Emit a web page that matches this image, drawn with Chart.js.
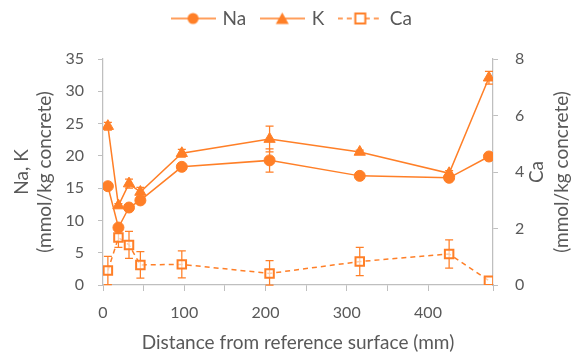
<!DOCTYPE html>
<html>
<head>
<meta charset="utf-8">
<script src="https://cdn.jsdelivr.net/npm/chart.js@4"></script>
<style>
  html, body { margin: 0; padding: 0; background: #ffffff; }
  #wrap { width: 585px; height: 356px; position: relative; }
</style>
</head>
<body>
<div id="wrap"><canvas id="c" width="585" height="356"></canvas></div>
<script>
// ---- data ----
const distances = [6, 19, 32, 46, 97, 205, 316, 426, 475];
const naValues  = [15.3, 8.9, 12.0, 13.1, 18.3, 19.3, 16.9, 16.6, 19.9];
const naErrors  = [0.3, 0.3, 0.3, 0.3, 0.3, 1.8, 0.3, 0.3, 0.3];
const kValues   = [24.6, 12.3, 15.7, 14.4, 20.4, 22.6, 20.6, 17.3, 32.1];
const kErrors   = [0.6, 0.3, 0.7, 0.7, 0.6, 2.0, 0.3, 0.4, 1.0];
const caValues  = [0.51, 1.68, 1.42, 0.71, 0.73, 0.41, 0.83, 1.10, 0.15];
const caErrors  = [0.5, 0.35, 0.48, 0.47, 0.48, 0.45, 0.5, 0.5, 0];
const seriesNames = ['Na', 'K', 'Ca'];
const leftTitle  = ['Na, K', '(mmol/kg concrete)'];
const rightTitle = ['Ca', '(mmol/kg concrete)'];
const xTitle = 'Distance from reference surface (mm)';

const ORANGE = '#FF7F27';
const AXIS = '#BFBFBF';
const TEXT = '#595959';
const FONT = 'Lato, "Open Sans", sans-serif';
const TITLE_SIZE = 19;

const toPts = (xs, ys) => xs.map((x, i) => ({x: x, y: ys[i]}));

// legend sample images: line + marker
function legendImage(kind) {
  const c = document.createElement('canvas');
  c.width = 45; c.height = 14;
  const g = c.getContext('2d');
  g.strokeStyle = ORANGE; g.lineWidth = 1.5;
  if (kind === 'Ca') g.setLineDash([5, 4]);
  g.beginPath(); g.moveTo(0, 7); g.lineTo(45, 7); g.stroke();
  g.setLineDash([]);
  g.fillStyle = ORANGE;
  if (kind === 'Na') {
    g.beginPath(); g.arc(22.5, 7, 5.5, 0, Math.PI * 2); g.fill();
  } else if (kind === 'K') {
    g.beginPath(); g.moveTo(22.5, 1); g.lineTo(29, 12.5); g.lineTo(16, 12.5); g.closePath(); g.fill();
  } else {
    g.fillStyle = '#ffffff';
    g.fillRect(17.5, 2, 10, 10);
    g.lineWidth = 2; g.strokeStyle = ORANGE;
    g.strokeRect(17.5, 2, 10, 10);
  }
  return c;
}
const legendImgs = { Na: legendImage('Na'), K: legendImage('K'), Ca: legendImage('Ca') };

// give the legend a fixed height so the plot starts where the reference's does
const legendHeightPlugin = {
  id: 'legendHeight',
  beforeInit(chart) {
    const lg = chart.legend;
    if (!lg) return;
    const orig = lg.fit;
    lg.fit = function () { orig.call(this); this.height = 66; };
  }
};

// error bars drawn through the chart's scales
const errorBarPlugin = {
  id: 'errorBars',
  beforeDatasetsDraw(chart) {
    const ctx = chart.ctx;
    const errs = [naErrors, kErrors, caErrors];
    chart.data.datasets.forEach((ds, di) => {
      const xs = chart.scales.x;
      const ys = chart.scales[ds.yAxisID];
      ctx.save();
      ctx.strokeStyle = ORANGE;
      ctx.lineWidth = 1.25;
      ds.data.forEach((p, i) => {
        const e = errs[di][i];
        if (!e) return;
        const px = xs.getPixelForValue(p.x);
        const top = ys.getPixelForValue(p.y + e);
        const bot = ys.getPixelForValue(Math.max(0, p.y - e));
        ctx.beginPath();
        ctx.moveTo(px, top); ctx.lineTo(px, bot);
        ctx.moveTo(px - 4, top); ctx.lineTo(px + 4, top);
        ctx.moveTo(px - 4, bot); ctx.lineTo(px + 4, bot);
        ctx.stroke();
      });
      ctx.restore();
    });
  }
};

// right axis title reading bottom-to-top like the reference
const rightTitlePlugin = {
  id: 'rightTitle',
  afterDraw(chart) {
    const s = chart.scales.y1;
    const ctx = chart.ctx;
    const cy = (chart.chartArea.top + chart.chartArea.bottom) / 2;
    ctx.save();
    ctx.fillStyle = TEXT;
    ctx.font = TITLE_SIZE + 'px ' + FONT;
    ctx.textAlign = 'center';
    ctx.textBaseline = 'middle';
    const xs = [s.right - 48, s.right - 23];
    rightTitle.forEach((t, i) => {
      ctx.save();
      ctx.translate(xs[i], cy);
      ctx.rotate(-Math.PI / 2);
      ctx.fillText(t, 0, 0);
      ctx.restore();
    });
    ctx.restore();
  }
};

new Chart(document.getElementById('c'), {
  type: 'line',
  data: {
    datasets: [
      {
        label: seriesNames[0], data: toPts(distances, naValues), yAxisID: 'y',
        borderColor: ORANGE, backgroundColor: ORANGE, borderWidth: 1.5,
        pointStyle: 'circle', pointRadius: 5.5, pointHoverRadius: 5.5,
        pointBackgroundColor: ORANGE, pointBorderColor: ORANGE, pointBorderWidth: 1
      },
      {
        label: seriesNames[1], data: toPts(distances, kValues), yAxisID: 'y',
        borderColor: ORANGE, backgroundColor: ORANGE, borderWidth: 1.5,
        pointStyle: 'triangle', pointRadius: 6.5, pointHoverRadius: 6.5,
        pointBackgroundColor: ORANGE, pointBorderColor: ORANGE, pointBorderWidth: 1
      },
      {
        label: seriesNames[2], data: toPts(distances, caValues), yAxisID: 'y1',
        borderColor: ORANGE, backgroundColor: ORANGE, borderWidth: 1.5, borderDash: [5, 4],
        pointStyle: 'rect', pointRadius: 6, pointHoverRadius: 6,
        pointBackgroundColor: 'rgba(255,255,255,0.6)', pointBorderColor: ORANGE, pointBorderWidth: 2
      }
    ]
  },
  options: {
    responsive: false,
    animation: false,
    devicePixelRatio: 1,
    layout: { padding: { top: -7, right: 0, left: 0, bottom: 0 } },
    plugins: {
      tooltip: { enabled: false },
      legend: {
        position: 'top',
        labels: {
          usePointStyle: true,
          pointStyleWidth: 40,
          boxHeight: 14,
          padding: 16,
          color: TEXT,
          font: { family: FONT, size: 19 },
          generateLabels(chart) {
            return chart.data.datasets.map((ds, i) => ({
              text: ds.label,
              pointStyle: legendImgs[ds.label],
              fillStyle: ORANGE, strokeStyle: ORANGE, lineWidth: 0,
              fontColor: TEXT, hidden: false, datasetIndex: i
            }));
          }
        }
      }
    },
    scales: {
      x: {
        type: 'linear', min: 0, max: 480,
        border: { color: AXIS, width: 1.25 },
        grid: { drawOnChartArea: false, drawTicks: true, tickLength: 6, color: AXIS },
        ticks: {
          stepSize: 50, color: TEXT, font: { family: FONT, size: 16 }, padding: 12,
          maxRotation: 0, autoSkip: false,
          callback: v => (v % 100 === 0 ? String(v) : '')
        },
        title: { display: true, text: xTitle, color: TEXT, font: { family: FONT, size: TITLE_SIZE }, padding: { top: 2, bottom: 2 } },
        afterFit(s) { s.height = 71; }
      },
      y: {
        type: 'linear', position: 'left', min: 0, max: 35,
        border: { color: AXIS, width: 1.25 },
        grid: { drawOnChartArea: false, drawTicks: true, tickLength: 5, color: AXIS },
        ticks: { stepSize: 5, color: TEXT, font: { family: FONT, size: 16 }, padding: 14 },
        title: { display: true, text: leftTitle, color: TEXT, font: { family: FONT, size: TITLE_SIZE }, padding: { top: 10.5, bottom: 0 } },
        afterFit(s) { s.width = 103; }
      },
      y1: {
        type: 'linear', position: 'right', min: 0, max: 8,
        border: { color: AXIS, width: 1.25 },
        grid: { drawOnChartArea: false, drawTicks: true, tickLength: 5, color: AXIS },
        ticks: { stepSize: 2, color: TEXT, font: { family: FONT, size: 16 }, padding: 17 },
        title: { display: true, text: rightTitle, color: 'rgba(0,0,0,0)', font: { family: FONT, size: TITLE_SIZE } },
        afterFit(s) { s.width = 92; }
      }
    }
  },
  plugins: [legendHeightPlugin, errorBarPlugin, rightTitlePlugin]
});
</script>
</body>
</html>
